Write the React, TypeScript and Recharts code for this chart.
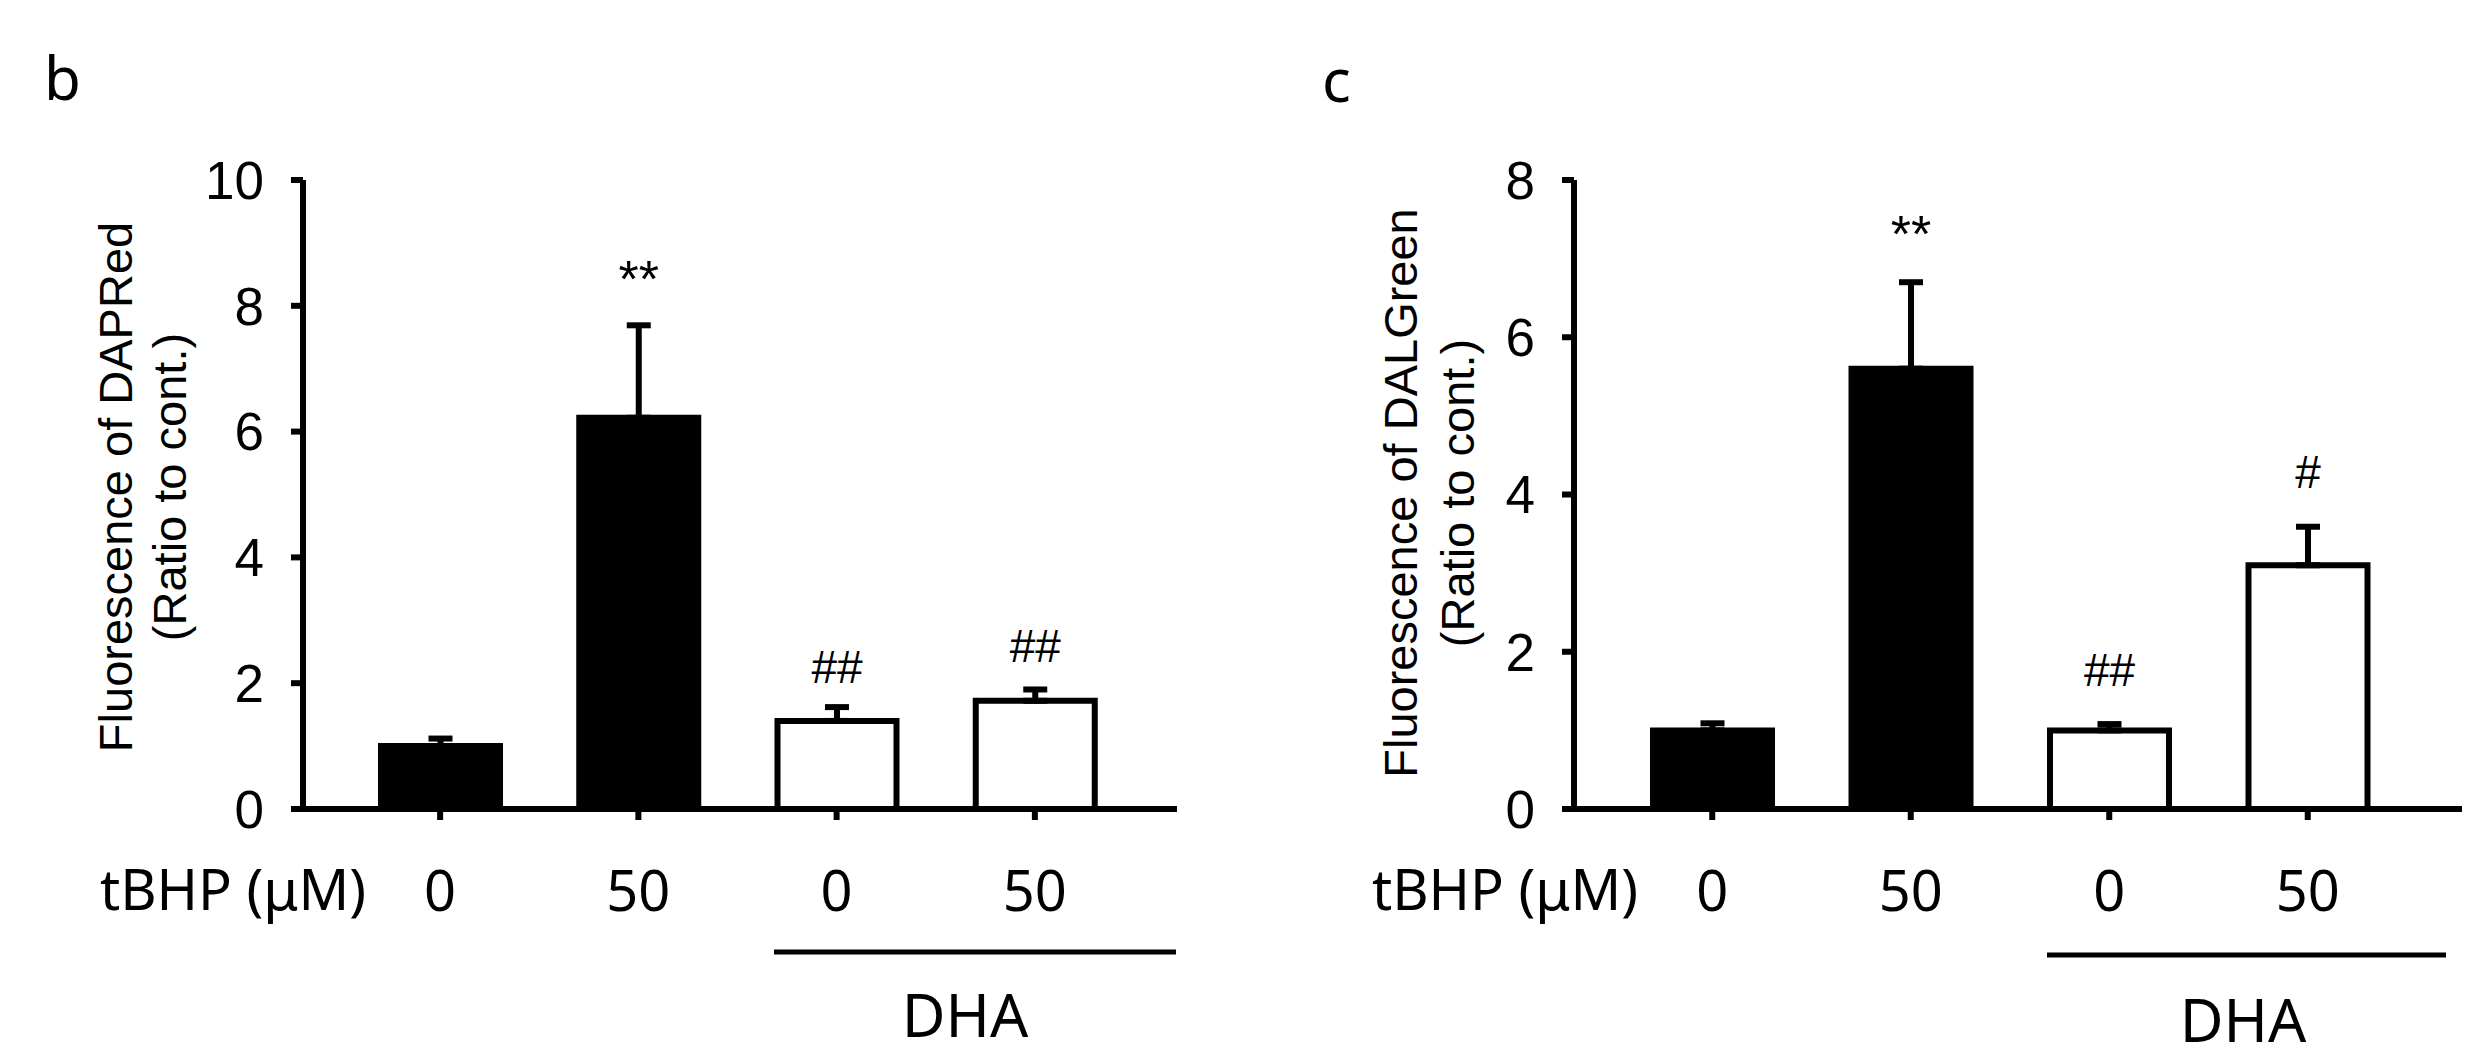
import React from 'react';
import { BarChart, Bar, XAxis, YAxis, ErrorBar, Cell, LabelList } from 'recharts';

// ---------- data ----------
const categories = ['0', '50', '0', '50'];
const groups = ['none', 'none', 'DHA', 'DHA'];

const dapRedMean = [1.0, 6.22, 1.4, 1.72];
const dapRedErr = [0.12, 1.47, 0.22, 0.18];
const dapRedSig = ['', '**', '##', '##'];
const dapRedTicks = [0, 2, 4, 6, 8, 10];

const dalGreenMean = [1.0, 5.6, 1.0, 3.1];
const dalGreenErr = [0.09, 1.1, 0.08, 0.49];
const dalGreenSig = ['', '**', '##', '#'];
const dalGreenTicks = [0, 2, 4, 6, 8];

const H = 1062;
const AXIS_Y = 809;
const SANS = '"Liberation Sans", Arial, sans-serif';
const NOTO = '"Noto Sans", sans-serif';

function buildRows(means: number[], errs: number[], sigs: string[]) {
  return categories.map((c, i) => ({
    label: c,
    group: groups[i],
    mean: means[i],
    err: [0, errs[i]],
    sig: sigs[i],
  }));
}

type PanelProps = {
  left: number;
  width: number;
  plotLeft: number;
  plotRight: number;
  padL: number;
  padR: number;
  means: number[];
  errs: number[];
  sigs: string[];
  ticks: number[];
  yMax: number;
  labelLines: string[];
  labelOff: number[];
  labelCY: number;
  sigGap: number[];
};

function Panel(p: PanelProps) {
  const rows = buildRows(p.means, p.errs, p.sigs);
  const yAxisWidth = p.plotLeft;
  const renderSig = (props: any) => {
    const { x, y, width, height, index, value } = props;
    if (!value) return null;
    const v = p.means[index];
    const px = Number(height) / v;
    const top = Number(y) - p.errs[index] * px;
    const isStar = String(value).includes('*');
    return (
      <text
        x={Number(x) + Number(width) / 2}
        y={top - p.sigGap[index]}
        textAnchor="middle"
        fontFamily={SANS}
        fontSize={isStar ? 52 : 46}
        fill="#000"
      >
        {value}
      </text>
    );
  };
  const renderYLabel = (props: any) => {
    const vb = props.viewBox || { x: 0, y: 180, width: yAxisWidth, height: AXIS_Y - 180 };
    const right = vb.x + vb.width;
    return (
      <g>
        {p.labelLines.map((t, i) => {
          const bx = right - p.labelOff[i];
          return (
            <text
              key={i}
              x={bx}
              y={p.labelCY}
              transform={`rotate(-90, ${bx}, ${p.labelCY})`}
              textAnchor="middle"
              fontFamily={SANS}
              fontSize={47}
              fill="#000"
            >
              {t}
            </text>
          );
        })}
      </g>
    );
  };
  return (
    <div style={{ position: 'absolute', left: p.left, top: 0, width: p.width, height: H }}>
      <BarChart
        width={p.width}
        height={H}
        data={rows}
        margin={{ top: 180, right: p.width - p.plotRight, bottom: 0, left: 0 }}
        barCategoryGap={0}
      >
        <XAxis
          dataKey="label"
          height={H - AXIS_Y}
          padding={{ left: p.padL, right: p.padR }}
          axisLine={{ stroke: '#000', strokeWidth: 6 }}
          tickLine={{ stroke: '#000', strokeWidth: 6 }}
          tickSize={11}
          tickMargin={51}
          interval={0}
          tick={{ fontSize: 56, fontFamily: NOTO, fill: '#000' }}
        />
        <YAxis
          width={yAxisWidth}
          domain={[0, p.yMax]}
          ticks={p.ticks}
          interval={0}
          allowDecimals={false}
          axisLine={{ stroke: '#000', strokeWidth: 6 }}
          tickLine={{ stroke: '#000', strokeWidth: 6 }}
          tickSize={12}
          tickMargin={27}
          tick={{ fontSize: 53, fontFamily: SANS, fill: '#000' }}
          label={{ content: renderYLabel }}
        />
        <Bar dataKey="mean" barSize={119} stroke="#000" strokeWidth={6} isAnimationActive={false}>
          {rows.map((r, i) => (
            <Cell key={i} fill={r.group === 'DHA' ? '#fff' : '#000'} />
          ))}
          <ErrorBar dataKey="err" width={12} strokeWidth={6} stroke="#000" direction="y" isAnimationActive={false} />
          <LabelList dataKey="sig" content={renderSig} />
        </Bar>
      </BarChart>
    </div>
  );
}

function Overlay() {
  return (
    <svg
      width={2477}
      height={H}
      style={{ position: 'absolute', left: 0, top: 0, pointerEvents: 'none' }}
    >
      <text x={44} y={100} fontFamily={NOTO} fontSize={60} fill="#000">b</text>
      <text x={1322} y={102} fontFamily={NOTO} fontSize={60} fill="#000">c</text>

      <text x={366} y={910} textAnchor="end" fontFamily={NOTO} fontSize={56} fill="#000">tBHP (μM)</text>
      <text x={1638} y={910} textAnchor="end" fontFamily={NOTO} fontSize={56} fill="#000">tBHP (μM)</text>

      <line x1={774} y1={952} x2={1176} y2={952} stroke="#000" strokeWidth={5} />
      <line x1={2047} y1={955} x2={2446} y2={955} stroke="#000" strokeWidth={5} />

      <text x={965} y={1037} textAnchor="middle" fontFamily={NOTO} fontSize={60} fill="#000">DHA</text>
      <text x={2243} y={1042} textAnchor="middle" fontFamily={NOTO} fontSize={60} fill="#000">DHA</text>
    </svg>
  );
}

export default function App() {
  return (
    <div style={{ position: 'absolute', left: 0, top: 0, width: 2477, height: H, background: '#fff' }}>
      <Panel
        left={0}
        width={1240}
        plotLeft={303}
        plotRight={1177}
        padL={38}
        padR={43}
        means={dapRedMean}
        errs={dapRedErr}
        sigs={dapRedSig}
        ticks={dapRedTicks}
        yMax={10}
        labelLines={['Fluorescence of DAPRed', '(Ratio to cont.)']}
        labelOff={[171, 117]}
        labelCY={487}
        sigGap={[28, 28, 24, 27]}
      />
      <Panel
        left={1240}
        width={1237}
        plotLeft={334}
        plotRight={1222}
        padL={39}
        padR={55}
        means={dalGreenMean}
        errs={dalGreenErr}
        sigs={dalGreenSig}
        ticks={dalGreenTicks}
        yMax={8}
        labelLines={['Fluorescence of DALGreen', '(Ratio to cont.)']}
        labelOff={[157, 100]}
        labelCY={493}
        sigGap={[30, 30, 38, 39]}
      />
      <Overlay />
    </div>
  );
}
